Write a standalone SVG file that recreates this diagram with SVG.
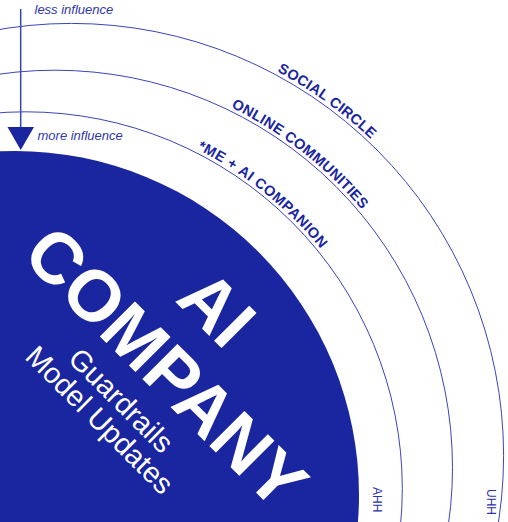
<svg xmlns="http://www.w3.org/2000/svg" xmlns:xlink="http://www.w3.org/1999/xlink" width="508" height="522" viewBox="0 0 508 522">
  <style>
    .ring { fill: none; stroke: #3a44bb; stroke-width: 1; }
    .core { fill: #1a25a0; }
    .ringlabel { font-family: "Liberation Sans", Arial, sans-serif; font-weight: bold; font-size: 14.5px; fill: #1a25a0; letter-spacing: 0.3px; }
    .note { font-family: "Liberation Sans", Arial, sans-serif; font-style: italic; font-size: 13px; fill: #2f37ad; }
    .big { font-family: "Liberation Sans", Arial, sans-serif; font-weight: bold; font-size: 72px; fill: #ffffff; }
    .sub { font-family: "Liberation Sans", Arial, sans-serif; font-size: 29px; fill: #ffffff; }
    .small { font-family: "Liberation Sans", Arial, sans-serif; font-size: 12px; fill: #2a32a8; }
  </style>
  <defs>
    <path id="p-outer" d="M115.5,22.1 A435.7,435.7 0 0 1 468.8,277.0"/>
    <path id="p-middle" d="M110.8,70.6 A401,401 0 0 1 426.8,317.5"/>
    <path id="p-inner" d="M80.4,112.3 A380.3,380.3 0 0 1 378.8,348.0"/>
  </defs>
  <rect width="508" height="522" fill="#ffffff"/>

  <g id="social-circle">
    <circle class="ring" cx="71.4" cy="455.6" r="432.2"/>
    <text class="ringlabel"><textPath href="#p-outer" xlink:href="#p-outer" startOffset="50%" text-anchor="middle">SOCIAL CIRCLE</textPath></text>
  </g>
  <g id="online-communities">
    <circle class="ring" cx="55" cy="467.7" r="397.5"/>
    <text class="ringlabel"><textPath href="#p-middle" xlink:href="#p-middle" startOffset="50%" text-anchor="middle">ONLINE COMMUNITIES</textPath></text>
  </g>
  <g id="me-ai-companion">
    <circle class="ring" cx="25.5" cy="488.6" r="376.8"/>
    <text class="ringlabel" style="letter-spacing:0.5px"><textPath href="#p-inner" xlink:href="#p-inner" startOffset="51%" text-anchor="middle">*ME + AI COMPANION</textPath></text>
  </g>
  <g id="ai-company">
    <circle class="core" cx="15" cy="495" r="344"/>
    <g transform="translate(166.7,366.7) rotate(45)">
      <text class="big" x="-5.7" y="-52" text-anchor="middle">AI</text>
      <text class="big" x="0" y="25.8" text-anchor="middle">COMPANY</text>
      <text class="sub" x="-8.4" y="66" text-anchor="middle">Guardrails</text>
      <text class="sub" x="-9.8" y="95" text-anchor="middle">Model Updates</text>
    </g>
  </g>

  <g id="influence-axis">
    <line x1="20.7" y1="9" x2="20.7" y2="128" stroke="#3a44bb" stroke-width="1.5"/>
    <polygon points="7.5,127 34,127 20.7,150" fill="#1a25a0"/>
    <text class="note" x="34.5" y="14">less influence</text>
    <text class="note" x="37.5" y="140">more influence</text>
  </g>

  <g id="ahh">
    <text class="small" transform="translate(373,487) rotate(90)">AHH</text>
  </g>
  <g id="uhh">
    <text class="small" transform="translate(487,489) rotate(90)">UHH</text>
  </g>
</svg>
